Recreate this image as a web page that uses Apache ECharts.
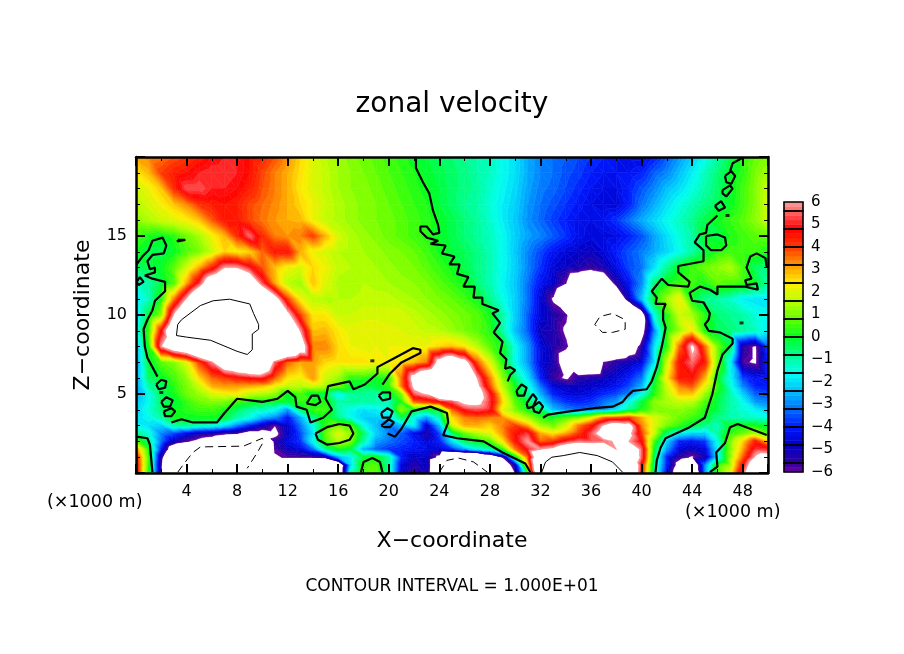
<!DOCTYPE html>
<html>
<head>
<meta charset="utf-8">
<title>zonal velocity</title>
<script src="https://cdn.jsdelivr.net/npm/echarts@6/dist/echarts.min.js"></script>
<style>
  html, body { margin: 0; padding: 0; background: #fff; }
  #chart { width: 904px; height: 654px; }
</style>
</head>
<body>
<div id="chart"></div>
<script>
// grid nodes, km
const xNodes = [0,1,2,3,4,5,6,7,8,9,10,11,12,13,14,15,16,17,18,19,20,21,22,23,24,25,26,27,28,29,30,31,32,33,34,35,36,37,38,39,40,41,42,43,44,45,46,47,48,49,50];
const zNodes = [20,19,18,17,16,15,14,13,12,11,10,9,8,7,6,5.5,5,4.5,4,3.5,3,2.5,2,1.5,1,.5,0];

// zonal velocity, one row per zNodes entry
const uRows = [
 [3.1,3.3,3.5,3.8,4.1,4.4,4.8,5,5,4.6, 4.3,3.8,3.2,2.6,2,1.6,1.3,1.1,.9,.7, .5,.3,0,-.2,-.4,-.6,-.8,-1,-1.2,-1.6, -2,-2.6,-3,-3.2,-3.4,-3.6,-3.8,-4,-4.2,-4.5, -4.5,-4,-3.4,-2.8,-2.2,-1.6,-1,-.3,.3,.8, 1],
 [2.4,2.9,4,4.4,4.6,5,5.2,5.2,5,4.6, 3.9,3.4,3,2.5,2,1.7,1.4,1.2,1,.8, .6,.4,.2,-.1,-.3,-.5,-.7,-1,-1.2,-1.6, -2,-2.6,-3,-3.2,-3.5,-3.7,-4,-4.2,-4.2,-4.2, -4,-3.4,-3,-2.4,-1.8,-1.2,-.6,-.1,.3,1, 1.4],
 [1.8,2.2,2.8,4.2,5.4,5.4,5,5,4.8,4.4, 3.8,3.4,3,2.4,2,1.7,1.4,1.2,1.1,.9, .7,.5,.3,.05,-.2,-.5,-.7,-.9,-1.3,-1.7, -2.1,-2.7,-3.1,-3.3,-3.6,-3.9,-4.2,-4.4,-4.4,-4, -3.5,-3,-2.4,-2,-1.5,-1,-.5,-.1,.5,1.1, 1.8],
 [1.6,1.9,2.3,2.8,3.3,4.1,4.4,4.6,4.4,3.9, 3.6,3.3,3,2.6,2.2,1.8,1.5,1.3,1.1,1, .8,.6,.4,.2,-.2,-.5,-.8,-1,-1.4,-1.8, -2.2,-2.8,-3.2,-3.5,-3.8,-4.1,-4.4,-4.6,-4.6,-4, -3.2,-2.6,-2,-1.5,-1.1,-.7,-.4,0,.5,1.1, 1.9],
 [1.2,1.5,1.8,2,2.3,2.8,3.7,4.6,4.5,3.9, 3.5,3.2,3,2.9,2.2,1.7,1.5,1.3,1.1,1, .9,.7,.5,.3,0,-.3,-.6,-.9,-1.3,-1.8, -2.3,-2.9,-3.3,-3.7,-4,-4.3,-4.4,-4.2,-3.8,-3.2, -2.6,-2.1,-1.6,-1.2,-.8,-.3,.1,.4,.7,1.2, 1.8],
 [.6,.2,0,.3,.9,1.4,2.2,2.9,4.2,5.6, 4.2,3.4,3.2,3.4,4,2.9,1.9,1.5,1.3,1.1, .9,.7,.5,.3,0,-.3,-.6,-.9,-1.2,-1.6, -2.2,-2.7,-3,-3.4,-3.8,-4.3,-4.5,-4.5,-4.4,-4, -3.5,-2.7,-2,-1.4,-1,-.1,-.4,.2,.5,.7, .9],
 [.1,-.3,-.4,0,.6,1,1.7,2.6,2.3,2.6, 3.6,4.5,4.6,3,2.2,1.9,1.6,1.5,1.4,1.3, 1.1,1,.8,.5,.1,-.2,-.4,-.7,-1.1,-1.6, -2.3,-3,-3.6,-4.2,-4.6,-4.8,-5,-4.6,-4,-3.5, -3.1,-2.6,-2.1,-1.6,-1,-.3,.3,.5,.5,.5, .2],
 [-.5,-.3,0,.7,1.8,3,4.3,6,6,5, 3.8,2.8,2.2,1.9,2.6,2.2,1.7,1.6,1.6,1.4, 1.3,1.1,1,.7,.4,.1,-.3,-.7,-1.1,-1.6, -2.2,-3,-3.8,-4.6,-5,-5.2,-5.6,-5.2,-4.4,-3.6, -3.2,-2,-.8,0,.5,.9,1.2,1.5,.6,-.5, -.7],
 [-1.3,-1,-.3,.6,3,5.2,8,9,9,8, 5.4,3,1.6,1.3,2.8,2,1.5,1.4,1.6,1.5, 1.4,1.3,1.2,1,.7,.4,.1,-.6,-1.1,-1.7, -2.3,-3.2,-4.2,-4.8,-6,-8,-9,-8,-5.5,-4.2, -3,-.6,.1,.5,.5,.2,.8,.6,.4,-.1, -1],
 [-2,-1.2,.2,3.4,6.2,9,12,13,13,13, 9,7,4,2.3,1.6,1.5,1.6,1.6,1.7,1.7, 1.7,1.5,1.4,1.2,1,.8,.5,.1,-.8,-1.5, -2.2,-3.2,-4.6,-6.2,-9,-12,-13,-12,-9,-5, -2.4,0,1.3,2.3,0,-.8,-1,-1.3,-1.8,-2, -2],
 [-2.2,-.2,1.2,6.2,9,11,13,14,14,14, 14,12,6.6,4,2.4,2.4,1.8,1.8,1.9,1.9, 1.9,1.9,1.7,1.5,1.3,1.1,.9,.7,.1,-1, -2.2,-3.4,-4.6,-5.3,-5.8,-8,-13,-15,-14,-12, -7.5,-1.5,.3,1.8,1.4,.3,-.6,-.8,-1,-1.4, -1.6],
 [-1.8,.5,4.6,9,11,13,13,13,13,13, 13,13,13,6,2.8,2.9,2.4,2.1,2.2,2.2, 2.1,2,1.9,1.7,1.6,1.3,1,.7,.3,-1, -2.4,-3.4,-5,-5.3,-6.2,-8,-10,-11,-11,-10, -7,-3,.2,1.3,2.4,.2,-.4,-.6,-.9,-1.2, -1.8],
 [-2.6,.2,6,8,9,11,12,13,13,13, 13,13,11,8,3.4,3.4,2.6,2.2,2.1,2.2, 2.2,2.2,2.1,2.2,2.6,2.8,2.4,1.6,.7,.1, -1.6,-2.8,-4.5,-5.3,-5.8,-7,-9,-10,-9,-7.5, -5.5,-2,.3,3.6,6.4,3.6,1,-.3,-5.4,-6.2, -3.6],
 [-2.8,-.2,.7,1.1,2,4,5.8,8,9,10, 9,5.5,3.6,3,3.2,2.6,2.4,2.5,2.5,2.3, 2.2,2.4,2.8,3.4,7,8.5,7,3.8,2,.3, -1.6,-2.8,-4.5,-5.2,-7,-9,-9,-6,-5.4,-5, -4.5,-2,1.8,4.6,5.6,4.4,1,-1.8,-5.8,-6.2, -4],
 [-2.8,-.5,-.1,.5,1.2,2.6,3.6,4,4.4,4.8, 5,3.6,2.4,2.2,3.2,1.8,1.3,.3,.3,0, .3,3.5,7,9,10,10,10,6,3.4,1.2, -.6,-2,-4,-5.6,-6.2,-5.4,-5.2,-5,-4.6,-4, -3.2,-.3,2.4,4.5,4.6,3,0,-1.6,-3.6,-4.2, -4],
 [-2.8,-1,-.5,.3,1,1.8,3,3.2,3.2,3, 2.8,2.2,1.7,1.6,1.9,1.4,.9,0,-.3,-.2, .4,3.4,6.5,9,9,10,10,6.5,3.8,1.6, .1,-1.4,-3.2,-4.6,-5,-5,-4.8,-4.6,-4.2,-3.6, -2.6,0,1.8,3.4,3.8,2.2,.4,-1.4,-3,-4, -4],
 [-2.6,-1.6,-.4,.1,.9,1.3,1.9,2.2,2.3,1.7, 1.5,1.2,-.2,.6,-.3,-.3,-1.8,-.9,-.9,-1, -.2,1,5.5,6.2,9,10,10,7,5,2.2, .2,-.9,-2.6,-4,-4.5,-4.6,-4.4,-3.9,-3.6,-3, -1.6,.3,1.6,2.8,2.8,1.3,-.1,-1,-2.2,-3.4, -3.6],
 [-2.4,-1.6,-.5,-.2,.4,.9,1.1,1,.5,.1, -.1,-.1,-.2,.4,.2,.3,-1,-.8,-1,-1, -1.2,.2,3.6,4,4.6,5.4,6.5,6.5,5.2,2.6, .7,-.2,-1.8,-3.2,-3.8,-4,-3.8,-3.2,-2.8,-1.6, -.2,1.2,1.5,1.7,1.6,.6,-.3,-1,-1.6,-2.8, -3],
 [-2.2,-1.4,-.6,0,.3,.5,.5,.2,-.5,-1, -1.2,-1.6,-2.8,-.6,.4,.5,-1,-1.6,-2,-1.8, -1.5,1.2,0,-.3,-.2,3.6,5,5.4,5,2, 1,.1,-.6,-2.4,-3,-3.3,-3.2,-2.9,-2,-.8, .2,1,1.1,1.2,.9,.2,-.3,-1,-1.4,-1.8, -2.4],
 [-2,-1.6,-1,.1,.1,.1,.1,-.1,-1,-1.5, -2.5,-3,-4.2,-2.6,-.8,.1,-.8,-1.6,-2.2,-2.2, -2,-.4,-1.6,-2.8,-1.2,2.5,3.4,3.6,3.4,3.2, 2.2,1.4,.4,.1,.6,1,2,3.4,3.6,4, 3,2,1.4,.9,.5,0,-.8,-1.1,-1.2,-1.3, -1.5],
 [-1.6,-2,-2.2,-1,-.8,-1.2,-1.4,-2,-3,-4, -5,-6,-4.8,-3.2,-1.6,.3,1,.6,-1.5,-2.4, -3.2,-2.4,-1.8,-4.8,-2.5,1.8,3,3,2.6,3.4, 4,3,1.4,.9,1.8,3.4,4.4,6.2,7.5,7, 3.4,2,1,.4,-.2,-.8,-1.2,0,.1,.1, -.2],
 [-.8,-1.4,-3,-3.6,-4.4,-5.2,-5.4,-5.8,-6,-7, -7,-6.5,-4.8,-3.6,-2,.8,2,1.2,-.5,-2.2, -3,-3.4,-4.4,-5.4,-3.6,-.6,.8,1.5,2,3.2, 4.6,5.2,3,2.4,3,4,5.4,7,8,6.5, 4,1.8,-.6,-1.8,-2.2,-2.2,-1,.3,.8,1.4, .6],
 [.8,-.6,-3.2,-5,-5.9,-6.5,-7,-8,-9,-10, -11,-5.5,-4.4,-3.8,-1.6,.6,1.6,1,-1,-2.8, -3.2,-3.6,-4,-4.6,-4,-2,-.4,0,.6,2.4, 4.5,6,3.6,4,5,5.6,5.4,5.6,6.2,6, 4.6,.6,-2.2,-4,-4.2,-3.8,-1.6,1,2.6,4.4, 2.6],
 [3.5,.2,-4,-8,-10,-10,-10,-10,-11,-12, -12,-5.8,-5,-4.5,-3.2,-.8,.1,-.3,-2.6,-3.4, -3.8,-4,-4.2,-4.4,-4.6,-3.8,-2.6,-1.6,-1,.3, 3.4,5,6,6.5,8,9,9,9,6,8, 5.6,0,-2.8,-4.6,-5,-4.6,-1.8,1,3,5.2, 5],
 [4.6,.5,-5.5,-10,-12,-12,-12,-12,-12,-12, -12,-6.2,-5.8,-5.8,-5.8,-5.4,-2.6,-1.8,-.2,.1, -.9,-4,-5,-4.8,-6.5,-12,-12,-12,-9,-6, -.5,3.6,9,10,11,12,12,12,12,9, 5.6,-.5,-4,-5.5,-6.2,-5.2,-2,1.2,3.6,6.2, 7],
 [4.8,.4,-6,-12,-14,-14,-14,-14,-14,-14, -16,-16,-15,-15,-15,-14,-9,-2,.5,.7, -1,-4.6,-5.4,-4.8,-10,-15,-16,-16,-12,-8, -5,2.4,11,12,12,12,12,12,12,11, 4.6,-.8,-4,-7,-9,-3,.4,1.4,4.6,8, 9],
 [5,.2,-6,-12,-14,-14,-14,-14,-14,-14, -16,-16,-16,-16,-16,-16,-9,-1,.6,.8, -1,-4.8,-5.6,-5,-10,-16,-16,-16,-14,-9, -6,0,11,12,12,12,12,12,12,12, 4.4,-.8,-4.4,-8,-10,-3,.6,2,5.4,9, 10]
];

// contour lines as [x km, z km]
const zeroContours = [
 [[22.15,19.9],[22.15,19.3],[22.7,18.4],[23.2,17.7],[23.5,16.6],[23.9,15.7],[24,15.2],[23.5,15.1],[23,15.6],[22.5,15.6],[22.5,15.3],[23,14.9],[23.9,14.7],[23.3,14.5],[24.5,14.4],[24.2,13.9],[25.2,13.7],[24.8,13.2],[25.6,13.2],[25.4,12.6],[26.3,12.4],[25.9,11.8],[26.8,11.8],[26.7,11.1],[27.4,11.1],[27.4,10.7],[28.7,10.3],[28.2,10.1],[28.8,9.5],[28.3,8.9],[29,8.3],[28.8,7.6],[29.3,7.2],[29.2,6.6],[29.6,6.7],[30,6.5],[29.6,6.2],[29.4,5.8]],
 [[30.1,5.2],[30.5,5.6],[30.9,5.4],[30.7,4.9],[30.2,4.9],[30.1,5.2]],
 [[30.9,4.4],[31.4,5],[31.7,4.7],[31.4,4.2],[31,4.1],[30.9,4.4]],
 [[31.4,4.2],[31.9,4.5],[32.2,4.2],[31.9,3.8],[31.5,3.9],[31.4,4.2]],
 [[32.2,3.5],[32.6,3.7],[33.5,3.8],[34.3,3.9],[36.2,4.1],[37.7,4.2],[38.5,4.5],[38.9,4.9],[39.3,5.2],[40.4,5.3],[40.8,5.8],[41.2,6.7],[41.6,8],[41.9,9.2],[41.7,9.7],[41.7,10.3],[41.9,10.7],[41.1,10.7],[41.2,11.1],[40.8,11.5],[41.6,12.3],[42.1,11.9],[43.7,11.8],[43.8,12.1],[42.9,12.7],[42.9,13.1],[44.9,13.4],[44.9,14.1],[44.2,14.6],[44.6,15.1],[45.1,15.2],[45.2,15.7],[46,16.3]],
 [[45.8,16.9],[46.3,17.2],[46.6,16.8],[46.1,16.6],[45.8,16.9]],
 [[46.4,17.9],[47,18.2],[47.2,18],[46.7,17.5],[46.4,17.7],[46.4,17.9]],
 [[46.6,18.8],[47.1,19.1],[47.4,18.8],[47.1,18.3],[46.7,18.4],[46.6,18.8]],
 [[48,19.95],[47.2,19.6],[47,19.1]],
 [[45.1,15],[46,15.1],[46.6,14.9],[46.7,14.4],[46.3,14.1],[45.5,14.1],[45.1,14.4],[45.1,15]],
 [[49.9,13],[49.8,13.6],[49.1,13.9],[48.6,13.7],[48.3,13],[48.7,12.3],[48.2,12.2],[48.3,11.9],[49.1,12],[49.2,11.6],[48.2,11.8],[46,11.8],[46,11.3],[45.4,11.6],[44.6,11.8],[43.8,11.4],[44,10.9],[44.9,10.8],[45.4,10.1],[45.3,9.7],[45,9.4],[45.3,9],[46.2,8.9],[47.2,8.5],[47.2,8.2],[46.4,7.5],[46,6.5],[45.6,5],[45,3.5],[43.8,2.9],[41.9,2.2],[41.5,1.6],[41.2,.8],[41.1,.05]],
 [[45.4,.05],[46,.4],[45.9,1.3],[46.6,1.9],[47,2.9],[47.6,3.1],[49.9,2.4]],
 [[.05,13.2],[.5,13.7],[1,14.1],[1.3,14.7],[2.1,14.9],[2.4,14.4],[2.2,13.9],[1.3,13.8],[.9,13.4],[1.1,12.9],[1.5,13],[1.5,12.7],[.7,12.5],[1.3,12.3],[2.3,12.1],[2.3,11.5],[1.5,10.9],[1.3,10.3],[.9,9.7],[.6,9.1],[.7,8],[.9,7.3],[1.7,6.1]],
 [[.05,12.1],[.3,12.4],[.6,12.1],[.2,11.9],[.05,12.1]],
 [[3.3,14.75],[3.9,14.75],[3.9,14.65],[3.3,14.65],[3.3,14.75]],
 [[1.6,5.6],[2,5.9],[2.4,5.8],[2.3,5.4],[1.8,5.3],[1.6,5.6]],
 [[2,4.5],[2.4,4.8],[2.9,4.6],[2.7,4.2],[2.2,4.2],[2,4.5]],
 [[2.2,3.9],[2.8,4.1],[3.1,3.9],[2.8,3.6],[2.3,3.6],[2.2,3.9]],
 [[2.8,3.2],[3.6,3.4],[4.5,3.2],[6.4,3.2],[7,3.8],[8,4.7],[10,4.5],[11.2,4.7],[12,5.2],[12.6,4.8],[12.7,4.2],[13.5,4],[13.8,3.2],[14.8,3.5],[15.5,4],[15,4.7],[15.2,5.5],[16.9,5.8],[17.2,5.3],[18.1,5.6],[19.1,6.3],[19.1,6.7],[20.5,7.3],[21.9,7.9],[22.5,7.8],[22.5,7.6],[21,7],[20.1,6.3],[19.5,5.6]],
 [[13.5,4.4],[13.9,4.9],[14.4,4.9],[14.6,4.5],[14.2,4.3],[13.5,4.4]],
 [[14.2,2.5],[15.1,2.9],[16.1,3.1],[16.9,3],[17.2,2.5],[16.9,2.1],[16.1,1.9],[15.1,1.8],[14.4,2.1],[14.2,2.5]],
 [[19.2,4.9],[19.5,5.1],[20.1,5.1],[20.1,4.7],[19.5,4.6],[19.2,4.9]],
 [[19.4,3.8],[19.9,4.1],[20.3,3.9],[20.1,3.5],[19.5,3.5],[19.4,3.8]],
 [[19.4,3],[20,3.4],[20.4,3.2],[20.1,2.9],[19.7,2.9],[19.4,3]],
 [[19.9,2.5],[20.5,2.3],[21,2.8],[21.8,3.9],[23.3,4.2],[24.6,3.8],[24.7,3.2],[24.3,2.4],[25.4,2.2],[27.5,2],[29,1.3],[30.8,.6],[31.2,.05]],
 [[17.8,.05],[18,.7],[18.7,.95],[19.3,.7],[19.5,.05]],
 [[.05,2.3],[.9,2.2],[1.1,1.8],[1.3,.05]]
];
const plusTenContours = [
 [[3.6,9.7],[5.1,10.6],[6.1,10.9],[7.4,11],[9,10.7],[9.3,10.1],[9.7,9.4],[9.7,9.1],[9.2,8.8],[9.2,7.8],[8.8,7.5],[8,7.7],[5.9,8.4],[4,8.6],[3.2,8.7],[3.3,9.4],[3.6,9.7]],
 [[32.1,.05],[32.4,.7],[32.9,1],[33.8,1.1],[35.1,1.3],[36.5,1.1],[37.7,.7],[38.5,.05]]
];
const minusTenContours = [
 [[3.3,.05],[3.9,.7],[4.5,1.3],[5.1,1.65],[8.5,1.7],[10,2.2],[10.1,2],[9.6,1.3],[8.8,.3]],
 [[24,.05],[24.6,.8],[25.5,.95],[26.7,.7],[27.8,.05]],
 [[36.3,9.4],[36.7,9.9],[37.7,10.1],[38.7,9.7],[38.7,9.1],[37.7,8.9],[36.9,8.9],[36.3,9.4]]
];
const contourDots = [[18.7,7.1],[47.9,9.5],[46.8,16.3],[2,5.1]];

// colour ramp stops [value, colour], and the boxes of the colour bar
const rampStops = [[-6,'#6c00a4'],[-5.6,'#3000a0'],[-4.8,'#0000c8'],[-4,'#0018ff'],[-3.2,'#0070ff'],[-2.4,'#00c0ff'],[-1.6,'#00fff0'],[-.8,'#00ff90'],[0,'#00ff20'],[.8,'#60ff00'],[1.6,'#b8ff00'],[2.4,'#ffee00'],[3.2,'#ff9800'],[4,'#ff3800'],[4.8,'#ff0000'],[5.6,'#ff6a6a'],[6,'#ff9c9c']];
const barEdges = [-6,-5.6,-4.8,-4,-3.2,-2.4,-1.6,-.8,0,.8,1.6,2.4,3.2,4,4.8,5.6,6];
const bandStep = 0.2;
const bandCount = 60;

function hexToRgb(h) {
    return [parseInt(h.slice(1,3),16), parseInt(h.slice(3,5),16), parseInt(h.slice(5,7),16)];
}
function rampColor(v) {
    for (let i = 0; i < rampStops.length - 1; i++) {
        const a = rampStops[i], b = rampStops[i+1];
        if (v <= b[0]) {
            const t = (v - a[0]) / (b[0] - a[0]);
            const ca = hexToRgb(a[1]), cb = hexToRgb(b[1]);
            return 'rgb(' + ca.map((c, k) => Math.round(c + (cb[k] - c) * t)).join(',') + ')';
        }
    }
    return rampStops[rampStops.length-1][1];
}
const bandColors = [];
for (let b = 0; b < bandCount; b++) bandColors.push(rampColor(-6 + (b + 0.5) * bandStep));

// keep the part of a triangle/polygon above (sign 1) or below (sign -1) a level
function clipPoly(poly, level, sign) {
    const out = [];
    for (let i = 0; i < poly.length; i++) {
        const p = poly[i], q = poly[(i + 1) % poly.length];
        const dp = (p[2] - level) * sign, dq = (q[2] - level) * sign;
        if (dp >= 0) out.push(p);
        if ((dp > 0 && dq < 0) || (dp < 0 && dq > 0)) {
            const t = (level - p[2]) / (q[2] - p[2]);
            out.push([p[0] + (q[0]-p[0])*t, p[1] + (q[1]-p[1])*t, level]);
        }
    }
    return out;
}

function triangleBands(tri, api, children) {
    const vals = tri.map(p => p[2]);
    const b0 = Math.max(0, Math.floor((Math.min(...vals) + 6) / bandStep));
    const b1 = Math.min(bandCount - 1, Math.floor((Math.max(...vals) + 6) / bandStep));
    for (let b = b0; b <= b1; b++) {
        const lo = -6 + b * bandStep, hi = lo + bandStep;
        let poly = clipPoly(tri, lo, 1);
        if (poly.length) poly = clipPoly(poly, hi, -1);
        if (poly.length < 3) continue;
        children.push({
            type: 'polygon',
            silent: true,
            shape: { points: poly.map(p => api.coord([p[0], p[1]])) },
            style: { fill: bandColors[b], stroke: bandColors[b], lineWidth: 0.6 }
        });
    }
}

// one item per grid cell: [column, row]
const cells = [];
for (let j = 0; j < zNodes.length - 1; j++) {
    for (let i = 0; i < xNodes.length - 1; i++) cells.push([i, j]);
}

function renderCell(params, api) {
    const i = api.value(0), j = api.value(1);
    const node = (a, b) => [xNodes[a], zNodes[b], uRows[b][a]];
    const children = [];
    triangleBands([node(i,j), node(i+1,j), node(i+1,j+1)], api, children);
    triangleBands([node(i,j), node(i+1,j+1), node(i,j+1)], api, children);
    return { type: 'group', children: children };
}

const barBands = bandColors.map((c, b) => [b]);
function renderBarBand(params, api) {
    const b = api.value(0);
    const p0 = api.coord([0, -6 + b * bandStep]);
    const p1 = api.coord([1, -6 + (b + 1) * bandStep]);
    return {
        type: 'rect', silent: true,
        shape: { x: p0[0], y: p1[1], width: p1[0] - p0[0], height: p0[1] - p1[1] },
        style: { fill: bandColors[b], stroke: bandColors[b], lineWidth: 0.5 }
    };
}
function renderBarBox(params, api) {
    const p0 = api.coord([0, api.value(0)]);
    const p1 = api.coord([1, api.value(1)]);
    return {
        type: 'rect', silent: true,
        shape: { x: p0[0], y: p1[1], width: p1[0] - p0[0], height: p0[1] - p1[1] },
        style: { fill: 'none', stroke: '#000', lineWidth: 1.6 }
    };
}

const labelFont = { fontFamily: 'DejaVu Sans', color: '#000' };

function contourSeries(line, width, type) {
    return {
        type: 'line', data: line, xAxisIndex: 0, yAxisIndex: 0, z: 5,
        symbol: 'none', silent: true, clip: true, animation: false,
        lineStyle: { color: '#000', width: width, type: type }
    };
}

const frameTicks = {
    axisLine: { onZero: false, lineStyle: { color: '#000', width: 2.5 } },
    axisTick: { show: true, inside: true, length: 9, lineStyle: { color: '#000', width: 2 } },
    splitLine: { show: false }, minorSplitLine: { show: false }, z: 10
};
const minorX = { minorTick: { show: true, splitNumber: 2, length: 4, lineStyle: { color: '#000', width: 1 } } };
const minorZ = { minorTick: { show: true, splitNumber: 5, length: 4, lineStyle: { color: '#000', width: 1 } } };

const option = {
    animation: false,
    backgroundColor: '#fff',
    title: {
        text: 'zonal velocity', left: 'center', top: 86,
        textStyle: Object.assign({ fontSize: 28, fontWeight: 'normal' }, labelFont)
    },
    grid: [
        { left: 136, top: 157, width: 632, height: 316 },
        { left: 784, top: 202, width: 19, height: 270 }
    ],
    xAxis: [
        Object.assign({
            type: 'value', gridIndex: 0, min: 0, max: 50, interval: 4,
            name: 'X\u2212coordinate', nameLocation: 'middle', nameGap: 57,
            nameTextStyle: Object.assign({ fontSize: 22 }, labelFont),
            axisLabel: Object.assign({ fontSize: 16, margin: 11, showMinLabel: false, showMaxLabel: false }, labelFont)
        }, frameTicks, minorX),
        Object.assign({
            type: 'value', gridIndex: 0, position: 'top', min: 0, max: 50, interval: 4,
            axisLabel: { show: false }
        }, frameTicks, minorX),
        { type: 'value', gridIndex: 1, min: 0, max: 1, show: false }
    ],
    yAxis: [
        Object.assign({
            type: 'value', gridIndex: 0, min: 0, max: 20, interval: 5,
            name: 'Z\u2212coordinate', nameLocation: 'middle', nameGap: 42, nameRotate: 90,
            nameTextStyle: Object.assign({ fontSize: 22 }, labelFont),
            axisLabel: Object.assign({ fontSize: 16, margin: 9, showMinLabel: false, showMaxLabel: false }, labelFont)
        }, frameTicks, minorZ),
        Object.assign({
            type: 'value', gridIndex: 0, position: 'right', min: 0, max: 20, interval: 5,
            axisLabel: { show: false }
        }, frameTicks, minorZ),
        {
            type: 'value', gridIndex: 1, position: 'right', min: -6, max: 6, interval: 1,
            axisLine: { show: false }, axisTick: { show: false }, splitLine: { show: false },
            axisLabel: Object.assign({
                fontSize: 15, margin: 8,
                formatter: v => (v < 0 ? '\u2212' + (-v) : '' + v)
            }, labelFont)
        }
    ],
    series: [
        {
            type: 'custom', data: cells, xAxisIndex: 0, yAxisIndex: 0, clip: true, silent: true,
            renderItem: renderCell, progressive: 0, animation: false, z: 2,
            encode: { x: [], y: [] }
        },
        {
            type: 'custom', data: barBands, xAxisIndex: 2, yAxisIndex: 2, silent: true,
            renderItem: renderBarBand, progressive: 0, animation: false, z: 2,
            encode: { x: [], y: [] }
        },
        {
            type: 'custom', data: barEdges.slice(0, -1).map((e, i) => [e, barEdges[i+1]]), xAxisIndex: 2, yAxisIndex: 2, silent: true,
            renderItem: renderBarBox, progressive: 0, animation: false, z: 3,
            encode: { x: [], y: [] }
        },
        {
            type: 'scatter', data: contourDots, xAxisIndex: 0, yAxisIndex: 0, z: 5,
            symbol: 'rect', symbolSize: [4, 3], silent: true, itemStyle: { color: '#000' }
        }
    ].concat(
        zeroContours.map(l => contourSeries(l, 2.2, 'solid')),
        plusTenContours.map(l => contourSeries(l, 1, 'solid')),
        minusTenContours.map(l => contourSeries(l, 1, [8, 5]))
    ),
    graphic: [
        { type: 'text', left: 47, top: 493, style: { text: '(\u00d71000 m)', font: '17.5px "DejaVu Sans"', fill: '#000' } },
        { type: 'text', left: 685, top: 503, style: { text: '(\u00d71000 m)', font: '17.5px "DejaVu Sans"', fill: '#000' } },
        { type: 'text', left: 'center', top: 578, style: { text: 'CONTOUR INTERVAL = 1.000E+01', font: '17px "DejaVu Sans"', fill: '#000' } }
    ]
};

const myChart = echarts.init(document.getElementById('chart'), null, { renderer: 'canvas' });
myChart.setOption(option);
</script>
</body>
</html>
